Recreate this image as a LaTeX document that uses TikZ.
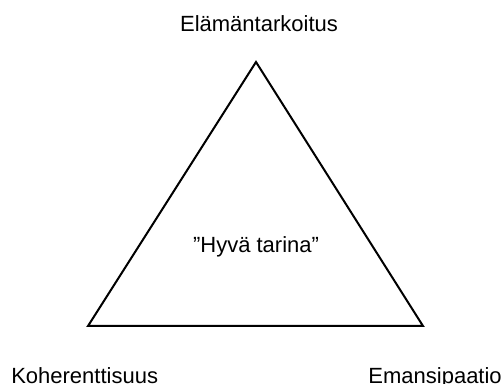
\documentclass[tikz,border=0pt]{standalone}
\usepackage{fontspec}
\setmainfont{Liberation Sans}
\usetikzlibrary{positioning}

\begin{document}
\begin{tikzpicture}[
    x=0.75pt,y=-0.75pt,
    lbl/.style={inner sep=0pt,font=\fontsize{16.5}{20}\selectfont},
    edge/.style={draw=black,line width=1.5pt,line join=miter}
  ]
    \useasboundingbox (0,0) rectangle (503,384);

    \coordinate (apex) at (256,62);
    \coordinate (left) at (88,326);
    \coordinate (right) at (423,326);
    \draw[edge] (apex) -- (right) -- (left) -- cycle;

    \node[lbl,anchor=base] (purpose) at (259,32) {Elämäntarkoitus};
    \node[lbl,anchor=base] (story) at (256,253) {”Hyvä tarina”};
    \node[lbl,anchor=base west] (coherence) at (11,383) {Koherenttisuus};
    \node[lbl,anchor=base east] (emancipation) at (502,383) {Emansipaatio};
  \end{tikzpicture}
\end{document}
